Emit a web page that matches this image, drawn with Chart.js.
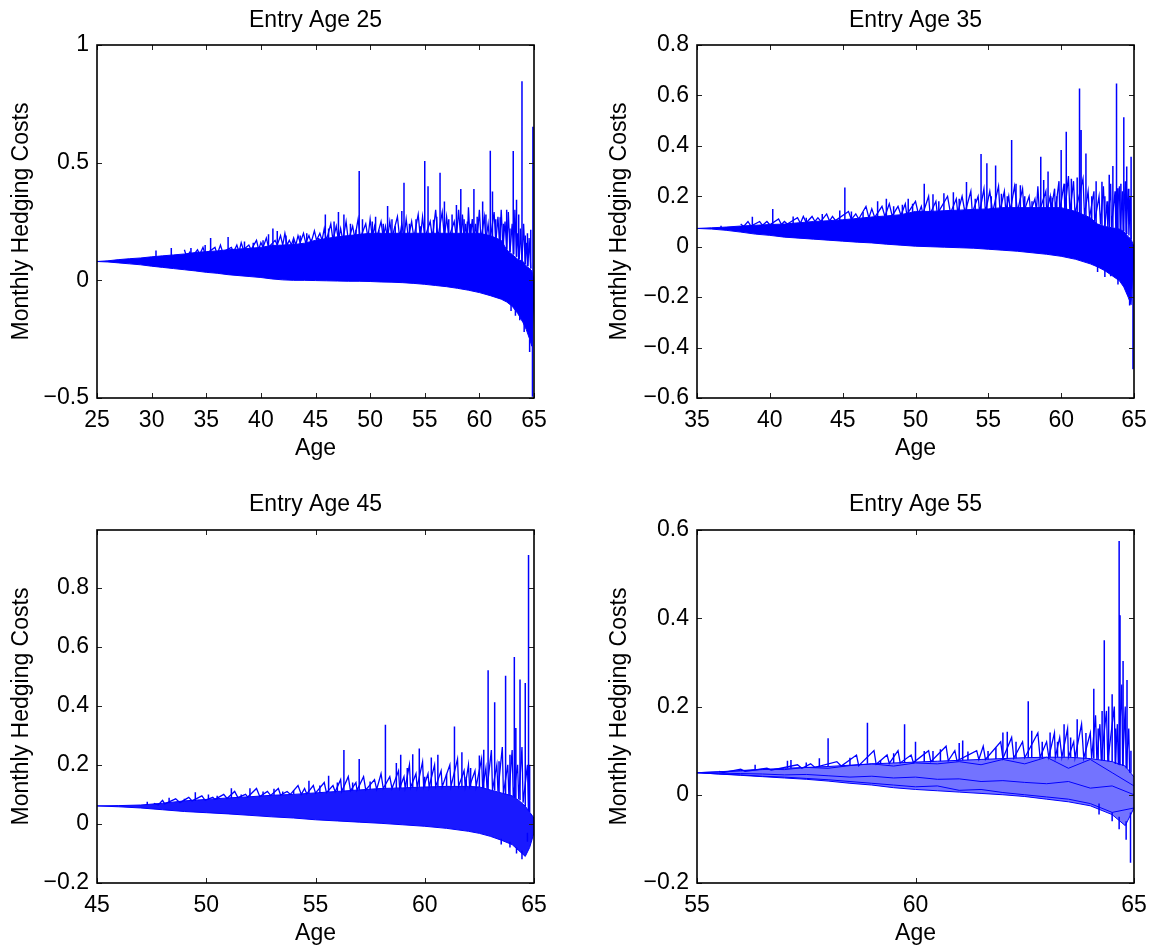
<!DOCTYPE html>
<html>
<head>
<meta charset="utf-8">
<script src="https://cdn.jsdelivr.net/npm/chart.js"></script>
<style>
  body { margin: 0; background: #fff; }
  #wrap { position: relative; width: 1162px; height: 950px; }
  #wrap canvas { position: absolute; }
</style>
</head>
<body>
<div id="wrap">
  <canvas id="c25" width="581" height="475" style="left:0;top:0"></canvas>
  <canvas id="c35" width="581" height="475" style="left:581px;top:0"></canvas>
  <canvas id="c45" width="581" height="475" style="left:0;top:475px"></canvas>
  <canvas id="c55" width="581" height="475" style="left:581px;top:475px"></canvas>
</div>
<script>
// ---- tick labels ----
const xTicks25 = [25, 30, 35, 40, 45, 50, 55, 60, 65];
const yTicks25 = [-0.5, 0, 0.5, 1];
const xTicks35 = [35, 40, 45, 50, 55, 60, 65];
const yTicks35 = [-0.6, -0.4, -0.2, 0, 0.2, 0.4, 0.6, 0.8];
const xTicks45 = [45, 50, 55, 60, 65];
const yTicks45 = [-0.2, 0, 0.2, 0.4, 0.6, 0.8];
const xTicks55 = [55, 60, 65];
const yTicks55 = [-0.2, 0, 0.2, 0.4, 0.6];

// ---- entry age 25 ----
// dense band of paths (top / bottom edge)
const age25Band = [25,26,27,28,29,30,31,32,33,34,35,36,37,38,39,40,41,42,43,44,45,46,47,48,49,50,51,52,53,54,55,56,57,58,59,60,61,62,62.5,63,63.5,64,64.3,64.6,64.8,65];
const hi25Band = [0.08,0.083,0.088,0.092,0.095,0.1,0.104,0.108,0.112,0.118,0.122,0.125,0.13,0.133,0.136,0.14,0.148,0.15,0.152,0.158,0.17,0.178,0.185,0.19,0.195,0.2,0.2,0.2,0.2,0.2,0.2,0.2,0.2,0.2,0.2,0.2,0.19,0.17,0.13,0.11,0.09,0.08,0.06,0.05,0.04,0.0];
const lo25Band = [0.08,0.078,0.074,0.07,0.066,0.06,0.055,0.05,0.045,0.04,0.034,0.03,0.024,0.02,0.016,0.012,0.006,0.002,0.0,0.0,-0.001,-0.002,-0.003,-0.004,-0.004,-0.005,-0.007,-0.008,-0.01,-0.013,-0.017,-0.022,-0.027,-0.034,-0.042,-0.052,-0.065,-0.08,-0.092,-0.11,-0.14,-0.18,-0.21,-0.25,-0.28,-0.05];
// jagged path along the top of the band
const age25Hair = [33.0,33.2,33.5,33.7,34.2,34.4,34.7,34.9,35.8,36.0,36.3,36.5,37.3,37.5,37.8,38.0,38.2,38.4,38.9,39.1,39.6,39.8,40.0,40.2,40.5,40.7,41.3,41.5,41.8,42.0,42.2,42.4,42.6,42.8,43.0,43.2,43.4,43.6,43.9,44.1,44.4,44.6,44.9,45.1,45.4,45.6,45.8,46.0,46.4,46.6,46.9,47.1,47.3,47.5,47.8,48.0,48.4,48.6,48.9,49.1,49.6,49.8,50.0,50.2,50.4,50.6,51.0,51.2,51.4,51.6,51.8,52.0,52.5,52.7,52.9,53.1,53.3,53.5,53.8,54.0,54.4,54.6,54.8,55.0,55.5,55.7,56.0,56.2,56.6,56.8,57.0,57.2,57.7,57.9,58.1,58.3,58.45,58.6,58.75,58.9,59.0,59.15,59.35,59.5,59.65,59.8,60.0,60.15,60.45,60.6,60.8,60.95,61.35,61.5,61.7,61.85,62.0,62.15,62.35,62.5,62.65,62.8,63.0,63.15,63.25,63.4,63.5,63.65,63.75,63.9,64.05,64.2,64.3,64.45,64.55,64.7];
const val25Hair = [0.13,0.1,0.12,0.1,0.13,0.11,0.14,0.11,0.14,0.11,0.15,0.12,0.14,0.12,0.15,0.12,0.16,0.13,0.15,0.13,0.17,0.13,0.16,0.14,0.18,0.14,0.17,0.15,0.19,0.15,0.2,0.15,0.17,0.15,0.18,0.15,0.19,0.16,0.2,0.16,0.19,0.16,0.21,0.17,0.2,0.17,0.22,0.17,0.24,0.17,0.23,0.17,0.22,0.17,0.25,0.17,0.23,0.18,0.26,0.18,0.24,0.18,0.26,0.18,0.23,0.18,0.25,0.18,0.23,0.18,0.25,0.18,0.27,0.18,0.24,0.18,0.26,0.18,0.25,0.18,0.28,0.18,0.27,0.18,0.25,0.18,0.3,0.18,0.29,0.18,0.27,0.18,0.25,0.18,0.3,0.17,0.28,0.17,0.24,0.17,0.31,0.17,0.26,0.17,0.24,0.17,0.3,0.17,0.27,0.17,0.24,0.16,0.29,0.16,0.27,0.15,0.3,0.14,0.25,0.13,0.29,0.12,0.24,0.11,0.3,0.1,0.2,0.09,0.22,0.08,0.24,0.07,0.16,0.06,0.18,0.05];
// tall upward spikes
const age25Spike = [30.4,31.8,33.6,34.9,35.4,37.0,38.5,39.3,40.2,40.7,41.1,41.5,42.3,43.0,43.6,44.2,44.6,45.3,45.9,46.2,46.7,47.1,47.6,48.2,48.7,49.0,49.3,50.2,50.5,50.8,51.2,51.6,52.0,52.3,52.9,53.1,53.6,54.2,54.6,55.0,55.3,55.8,56.1,56.4,56.8,57.2,57.5,57.9,58.3,58.6,58.9,59.2,59.5,59.8,60.3,60.6,61.0,61.2,61.5,61.9,62.2,62.5,62.8,63.1,63.4,63.6,63.9,64.2,64.4,64.7,64.9];
const hi25Spike = [0.127,0.137,0.137,0.15,0.18,0.184,0.165,0.16,0.17,0.196,0.22,0.21,0.19,0.17,0.19,0.2,0.175,0.18,0.28,0.22,0.25,0.29,0.28,0.24,0.215,0.465,0.26,0.25,0.27,0.215,0.24,0.316,0.26,0.23,0.295,0.415,0.24,0.26,0.23,0.507,0.4,0.257,0.27,0.457,0.335,0.26,0.28,0.32,0.388,0.26,0.25,0.24,0.388,0.27,0.335,0.28,0.551,0.377,0.26,0.268,0.24,0.3,0.22,0.55,0.342,0.28,0.846,0.19,0.2,0.215,0.653];
const lo25Spike = [0.1,0.1,0.11,0.12,0.12,0.13,0.13,0.13,0.14,0.14,0.14,0.15,0.15,0.15,0.15,0.16,0.16,0.16,0.16,0.17,0.17,0.17,0.17,0.17,0.17,0.17,0.17,0.18,0.18,0.18,0.18,0.18,0.18,0.18,0.18,0.18,0.18,0.18,0.18,0.18,0.18,0.17,0.17,0.17,0.17,0.17,0.17,0.17,0.17,0.17,0.17,0.17,0.17,0.17,0.16,0.16,0.16,0.16,0.15,0.15,0.14,0.13,0.12,0.11,0.1,0.09,0.08,0.07,0.06,0.05,0.0];
// downward dips near the end
const age25Dip = [62.9,63.3,63.7,64.1,64.6,64.86];
const lo25Dip = [-0.13,-0.15,-0.17,-0.22,-0.305,-0.495];
const hi25Dip = [-0.1,-0.12,-0.14,-0.18,-0.25,0.0];

// ---- entry age 35 ----
const age35Band = [35,36,37,38,39,40,41,42,43,44,45,46,47,48,49,50,51,52,53,54,55,56,57,58,59,60,61,62,62.5,63,63.5,64,64.3,64.6,64.8,65];
const hi35Band = [0.0725,0.075,0.078,0.082,0.085,0.088,0.09,0.095,0.1,0.103,0.107,0.112,0.118,0.122,0.127,0.14,0.14,0.143,0.145,0.148,0.15,0.155,0.155,0.155,0.155,0.155,0.14,0.115,0.09,0.08,0.075,0.07,0.06,0.04,0.03,0.0];
const lo35Band = [0.0725,0.07,0.065,0.058,0.05,0.045,0.038,0.034,0.03,0.026,0.022,0.018,0.015,0.01,0.006,0.002,0.0,-0.002,-0.004,-0.006,-0.01,-0.014,-0.018,-0.024,-0.03,-0.038,-0.05,-0.068,-0.08,-0.095,-0.115,-0.135,-0.16,-0.2,-0.23,-0.02];
const age35Hair = [38.0,38.2,38.5,38.7,39.3,39.5,39.8,40.0,40.6,40.8,41.0,41.2,41.9,42.1,42.3,42.5,42.9,43.1,43.3,43.5,43.9,44.1,44.3,44.5,45.4,45.6,45.9,46.1,46.6,46.8,47.0,47.2,47.7,47.9,48.2,48.4,48.8,49.0,49.3,49.4,50.0,50.2,50.4,50.5,50.9,51.0,51.4,51.5,52.2,52.4,52.8,52.9,53.2,53.4,53.8,53.9,54.3,54.4,54.7,54.8,55.1,55.3,55.7,55.8,56.1,56.2,56.4,56.5,56.8,57.0,57.35,57.45,57.8,57.9,58.2,58.3,58.4,58.5,58.95,59.0,59.25,59.3,59.55,59.6,59.85,59.9,60.2,60.25,60.5,60.6,60.85,60.95,61.5,61.6,61.85,61.95,62.25,62.3,62.6,62.7,62.9,63.0,63.15,63.2,63.4,63.45,63.7,63.75,64.0,64.05,64.2,64.25,64.4,64.45,64.6,64.65,64.75,64.8];
const val35Hair = [0.09,0.08,0.1,0.082,0.1,0.085,0.1,0.087,0.11,0.088,0.1,0.09,0.115,0.093,0.12,0.095,0.12,0.1,0.115,0.1,0.13,0.102,0.12,0.104,0.14,0.108,0.13,0.11,0.16,0.114,0.15,0.116,0.16,0.12,0.17,0.122,0.16,0.125,0.17,0.127,0.18,0.13,0.16,0.13,0.2,0.13,0.18,0.13,0.2,0.133,0.19,0.134,0.2,0.135,0.22,0.135,0.2,0.136,0.23,0.137,0.22,0.138,0.24,0.14,0.22,0.14,0.2,0.14,0.24,0.14,0.23,0.14,0.2,0.14,0.19,0.14,0.24,0.14,0.22,0.14,0.2,0.14,0.23,0.14,0.26,0.14,0.25,0.14,0.28,0.135,0.26,0.13,0.27,0.125,0.22,0.115,0.22,0.1,0.2,0.088,0.24,0.08,0.18,0.078,0.25,0.076,0.22,0.072,0.24,0.066,0.22,0.062,0.26,0.055,0.23,0.045,0.2,0.03];
const age35Spike = [36.65,38.8,40.2,41.6,42.5,43.6,44.8,45.15,45.6,46.4,47.4,48.0,48.5,49.1,49.5,49.8,50.6,51.2,51.6,51.95,52.6,53.0,53.5,54.1,54.5,54.9,55.2,55.5,55.9,56.3,56.6,56.9,57.2,57.5,58.0,58.6,58.8,59.1,59.4,59.7,60.0,60.35,60.7,61.1,61.26,61.37,61.7,62.1,62.4,62.8,63.0,63.3,63.55,63.8,63.9,64.1,64.3,64.5,64.8];
const hi35Spike = [0.083,0.119,0.15,0.12,0.115,0.13,0.144,0.235,0.14,0.138,0.18,0.19,0.16,0.166,0.19,0.17,0.25,0.208,0.18,0.212,0.216,0.19,0.257,0.19,0.368,0.331,0.2,0.322,0.21,0.2,0.423,0.25,0.244,0.2,0.18,0.357,0.265,0.298,0.194,0.2,0.384,0.456,0.27,0.275,0.627,0.463,0.37,0.2,0.26,0.258,0.2,0.285,0.32,0.647,0.232,0.25,0.513,0.318,0.357];
const lo35Spike = [0.075,0.084,0.088,0.09,0.095,0.1,0.105,0.107,0.11,0.112,0.118,0.122,0.124,0.127,0.127,0.13,0.13,0.13,0.13,0.133,0.133,0.135,0.135,0.135,0.137,0.138,0.138,0.138,0.14,0.14,0.14,0.14,0.14,0.14,0.14,0.14,0.14,0.14,0.14,0.14,0.14,0.14,0.135,0.13,0.13,0.128,0.12,0.11,0.09,0.085,0.08,0.078,0.075,0.072,0.07,0.065,0.06,0.05,0.03];
const age35Dip = [62.5,63.0,63.4,63.9,64.2,64.7,64.93];
const lo35Dip = [-0.1,-0.12,-0.117,-0.15,-0.14,-0.233,-0.486];
const hi35Dip = [-0.07,-0.09,-0.1,-0.12,-0.12,-0.2,0.0];

// ---- entry age 45 ----
const age45Band = [45,46,47,48,49,50,51,52,53,54,55,56,57,58,59,60,61,62,62.5,63,63.5,64,64.3,64.6,64.8,65];
const hi45Band = [0.061,0.062,0.064,0.07,0.078,0.083,0.088,0.092,0.097,0.1,0.105,0.11,0.115,0.12,0.122,0.125,0.127,0.127,0.125,0.115,0.105,0.095,0.08,0.06,0.04,0.02];
const lo45Band = [0.061,0.058,0.054,0.048,0.042,0.038,0.034,0.029,0.024,0.02,0.014,0.01,0.006,0.002,-0.003,-0.008,-0.015,-0.025,-0.032,-0.042,-0.055,-0.07,-0.09,-0.11,-0.08,-0.03];
const age45Hair = [47.6,47.8,48.0,48.1,48.6,48.8,49.2,49.35,49.8,49.95,50.3,50.4,50.8,50.95,51.3,51.45,51.8,51.9,52.3,52.45,52.8,52.95,53.3,53.4,53.7,53.85,54.2,54.35,54.5,54.6,54.9,55.0,55.4,55.5,55.8,55.9,56.15,56.2,56.5,56.6,56.85,56.9,57.2,57.3,57.7,57.8,58.0,58.1,58.4,58.5,58.8,58.85,59.05,59.1,59.3,59.35,59.6,59.65,59.9,59.95,60.15,60.2,60.45,60.5,60.75,60.8,61.15,61.2,61.5,61.55,61.8,61.85,62.0,62.05,62.3,62.35,62.6,62.65,62.8,62.85,63.05,63.1,63.3,63.35,63.55,63.6,63.8,63.85,64.0,64.05,64.25,64.3,64.45,64.5,64.7,64.75];
const val45Hair = [0.07,0.064,0.08,0.068,0.085,0.072,0.09,0.078,0.095,0.08,0.09,0.083,0.1,0.086,0.11,0.089,0.1,0.091,0.12,0.093,0.11,0.096,0.12,0.098,0.11,0.1,0.13,0.1,0.12,0.102,0.13,0.104,0.14,0.106,0.13,0.109,0.15,0.11,0.16,0.112,0.14,0.114,0.16,0.115,0.15,0.117,0.17,0.12,0.16,0.12,0.18,0.121,0.16,0.122,0.2,0.123,0.17,0.124,0.21,0.125,0.17,0.125,0.2,0.126,0.18,0.126,0.2,0.127,0.22,0.127,0.18,0.127,0.2,0.127,0.18,0.126,0.22,0.122,0.19,0.118,0.25,0.115,0.2,0.11,0.26,0.103,0.2,0.098,0.25,0.093,0.2,0.084,0.26,0.072,0.2,0.05];
const age45Spike = [47.3,48.3,49.0,49.5,50.1,50.5,51.15,51.6,52.0,52.6,53.1,53.5,54.0,54.7,55.2,55.6,56.0,56.3,56.7,57.0,57.5,58.2,58.7,58.9,59.2,59.45,59.75,60.0,60.3,60.6,61.0,61.36,61.7,61.9,62.1,62.5,62.7,62.9,63.2,63.4,63.7,63.9,64.1,64.17,64.36,64.6,64.75,64.8];
const hi45Spike = [0.075,0.089,0.085,0.107,0.1,0.095,0.121,0.1,0.121,0.11,0.119,0.11,0.114,0.146,0.13,0.163,0.14,0.25,0.14,0.22,0.144,0.336,0.206,0.234,0.189,0.236,0.255,0.16,0.225,0.234,0.17,0.33,0.243,0.16,0.189,0.232,0.251,0.52,0.412,0.212,0.502,0.234,0.565,0.325,0.489,0.477,0.91,0.2];
const lo45Spike = [0.064,0.07,0.078,0.078,0.083,0.083,0.088,0.09,0.092,0.095,0.097,0.1,0.1,0.103,0.105,0.108,0.11,0.11,0.113,0.115,0.115,0.12,0.12,0.122,0.122,0.123,0.124,0.125,0.125,0.126,0.127,0.127,0.127,0.127,0.127,0.125,0.12,0.117,0.113,0.108,0.1,0.097,0.09,0.088,0.08,0.06,0.045,0.04];
const age45Dip = [63.5,63.9,64.2,64.45,64.7];
const lo45Dip = [-0.07,-0.08,-0.1,-0.12,-0.06];
const hi45Dip = [-0.05,-0.06,-0.08,-0.09,-0.03];

// ---- entry age 55 ----
const age55Band = [55,55.5,56,56.5,57,57.5,58,58.5,59,59.5,60,60.5,61,61.5,62,62.5,63,63.5,64,64.5,64.8,65];
const hi55Band = [0.05,0.052,0.055,0.057,0.06,0.062,0.064,0.067,0.07,0.072,0.074,0.076,0.078,0.08,0.082,0.084,0.085,0.085,0.082,0.075,0.065,0.04];
const lo55Band = [0.05,0.047,0.044,0.041,0.038,0.035,0.031,0.026,0.022,0.016,0.012,0.009,0.006,0.003,0.0,-0.004,-0.01,-0.016,-0.025,-0.045,-0.07,-0.03];
// a few single paths visible inside the band
const age55Path = [55,55.5,56,56.5,57,57.5,58,58.5,59,59.5,60,60.5,61,61.5,62,62.5,63,63.5,64,64.5,65];
const valA55Path = [0.05,0.052,0.054,0.058,0.057,0.062,0.06,0.066,0.07,0.065,0.072,0.07,0.075,0.068,0.08,0.07,0.085,0.06,0.08,0.05,0.02];
const valB55Path = [0.05,0.049,0.048,0.047,0.045,0.046,0.043,0.04,0.042,0.038,0.04,0.035,0.036,0.03,0.032,0.028,0.025,0.03,0.015,0.02,0.0];
const valC55Path = [0.05,0.047,0.045,0.042,0.04,0.037,0.034,0.03,0.026,0.022,0.018,0.02,0.01,0.012,0.005,0.0,-0.005,-0.01,-0.02,-0.04,-0.03];
const age55Hair = [55.5,55.6,56.0,56.1,56.6,56.7,57.3,57.4,57.6,57.7,58.2,58.3,58.65,58.7,59.05,59.1,59.35,59.4,59.6,59.65,59.9,59.95,60.3,60.35,60.7,60.75,60.9,60.95,61.4,61.45,61.55,61.6,61.95,62.0,62.2,62.25,62.45,62.5,62.8,62.85,63.0,63.05,63.18,63.2,63.3,63.35,63.48,63.5,63.62,63.65,63.8,63.85,64.0,64.03,64.12,64.15,64.22,64.25,64.37,64.4,64.55,64.57,64.62,64.64,64.72,64.74,64.8,64.82,64.88,64.9];
const val55Hair = [0.053,0.05,0.058,0.053,0.06,0.056,0.068,0.06,0.07,0.062,0.075,0.065,0.09,0.066,0.1,0.069,0.09,0.071,0.1,0.072,0.09,0.073,0.1,0.075,0.11,0.077,0.1,0.077,0.1,0.08,0.11,0.08,0.12,0.082,0.13,0.083,0.12,0.084,0.14,0.085,0.12,0.085,0.14,0.085,0.13,0.085,0.15,0.085,0.12,0.084,0.16,0.083,0.14,0.082,0.18,0.08,0.16,0.078,0.19,0.076,0.2,0.07,0.16,0.068,0.25,0.066,0.2,0.06,0.15,0.05];
const age55Spike = [56.33,57.07,57.15,57.5,57.8,58.0,58.5,58.9,59.2,59.5,59.75,60.0,60.2,60.4,60.57,61.0,61.08,61.2,61.66,61.84,62.0,62.1,62.3,62.58,62.66,62.9,63.08,63.25,63.4,63.55,63.7,63.9,64.08,64.18,64.27,64.32,64.42,64.5,64.58,64.66,64.68,64.75,64.84,64.93];
const hi55Spike = [0.068,0.077,0.079,0.073,0.083,0.128,0.084,0.163,0.079,0.094,0.16,0.12,0.099,0.099,0.103,0.117,0.123,0.098,0.099,0.107,0.141,0.143,0.12,0.212,0.145,0.12,0.141,0.12,0.16,0.13,0.171,0.14,0.24,0.15,0.19,0.35,0.2,0.228,0.15,0.575,0.407,0.303,0.26,0.1];
const lo55Spike = [0.056,0.06,0.06,0.062,0.063,0.064,0.067,0.07,0.07,0.072,0.073,0.074,0.075,0.075,0.076,0.078,0.078,0.079,0.08,0.081,0.082,0.082,0.083,0.084,0.084,0.085,0.085,0.085,0.085,0.085,0.084,0.083,0.082,0.08,0.078,0.077,0.076,0.075,0.07,0.068,0.067,0.065,0.06,0.05];
const age55Dip = [64.2,64.5,64.66,64.82,64.92];
const lo55Dip = [-0.045,-0.06,-0.078,-0.102,-0.154];
const hi55Dip = [-0.02,-0.04,-0.05,-0.06,-0.04];

const BLUE = '#0000ff';

Chart.defaults.font.family = "'Liberation Sans', Arial, Helvetica, sans-serif";
Chart.defaults.font.size = 23;
Chart.defaults.color = '#000';

const toPts = (xs, ys) => xs.map((x, i) => ({x: x, y: ys[i]}));
// vertical strokes from low to high, broken by gaps
const toSegs = (xs, lo, hi) => {
  const out = [];
  xs.forEach((x, i) => { out.push({x: x, y: lo[i]}, {x: x, y: hi[i]}, {x: x, y: null}); });
  return out;
};
const fmt = v => (v < 0 ? '\u2212' + Math.abs(v) : String(v));

// matlab style box, inward ticks and panel title
const boxPlugin = {
  id: 'box',
  afterDatasetsDraw(chart, args, opts) {
    const ctx = chart.ctx;
    const a = chart.chartArea;
    const sx = chart.scales.x, sy = chart.scales.y;
    ctx.save();
    ctx.strokeStyle = '#222';
    ctx.lineWidth = 1;
    ctx.beginPath();
    sx.ticks.forEach(t => {
      const p = Math.round(sx.getPixelForValue(t.value)) + 0.5;
      ctx.moveTo(p, a.bottom); ctx.lineTo(p, a.bottom - 5);
      ctx.moveTo(p, a.top); ctx.lineTo(p, a.top + 5);
    });
    sy.ticks.forEach(t => {
      const p = Math.round(sy.getPixelForValue(t.value)) + 0.5;
      ctx.moveTo(a.left, p); ctx.lineTo(a.left + 5, p);
      ctx.moveTo(a.right, p); ctx.lineTo(a.right - 5, p);
    });
    ctx.stroke();
    ctx.strokeStyle = '#000';
    ctx.lineWidth = 1.6;
    ctx.strokeRect(a.left, a.top, a.right - a.left, a.bottom - a.top);
    ctx.fillStyle = '#000';
    ctx.font = "23px 'Liberation Sans', Arial, sans-serif";
    ctx.textAlign = 'center';
    ctx.textBaseline = 'alphabetic';
    ctx.fillText(opts.title, (a.left + a.right) / 2, opts.titleY);
    ctx.restore();
  }
};

const lineDs = (data, width, extra) => Object.assign(
  { data: data, borderColor: BLUE, borderWidth: width, pointRadius: 0, fill: false, spanGaps: false }, extra || {});

function makePanel(id, p) {
  const sets = [
    lineDs(toPts(p.bandAge, p.bandLo), 1),
    lineDs(toPts(p.bandAge, p.bandHi), 1, { fill: '-1', backgroundColor: p.fillColor }),
    lineDs(toPts(p.hairAge, p.hairVal), 1.3),
    lineDs(toSegs(p.spikeAge, p.spikeLo, p.spikeHi), 1.5),
    lineDs(toSegs(p.dipAge, p.dipLo, p.dipHi), 1.5)
  ];
  (p.paths || []).forEach(vals => sets.push(lineDs(toPts(p.pathAge, vals), 1)));
  new Chart(document.getElementById(id), {
    type: 'line',
    data: { datasets: sets },
    options: {
      responsive: false,
      animation: false,
      events: [],
      elements: { line: { tension: 0 } },
      layout: { padding: { top: p.padTop, right: p.padRight, left: 0, bottom: 0 } },
      plugins: {
        legend: { display: false },
        tooltip: { enabled: false },
        box: { title: p.title, titleY: p.titleY }
      },
      scales: {
        x: {
          type: 'linear',
          min: p.xTicks[0],
          max: p.xTicks[p.xTicks.length - 1],
          afterBuildTicks: s => { s.ticks = p.xTicks.map(v => ({value: v})); },
          afterFit: s => { s.height = p.xHeight; },
          grid: { display: false, drawTicks: false },
          border: { display: false },
          ticks: { padding: 9, autoSkip: false, maxRotation: 0, color: '#000', callback: v => fmt(v) },
          title: { display: true, text: 'Age', color: '#000', padding: { top: 0, bottom: p.xTitlePad } }
        },
        y: {
          type: 'linear',
          min: p.yMin,
          max: p.yMax,
          afterBuildTicks: s => { s.ticks = p.yTicks.map(v => ({value: v})); },
          afterFit: s => { s.width = p.yWidth; },
          grid: { display: false, drawTicks: false },
          border: { display: false },
          ticks: { padding: 8, autoSkip: false, color: '#000', callback: v => fmt(v) },
          title: { display: true, text: 'Monthly Hedging Costs', color: '#000', padding: { top: p.yTitlePad, bottom: 0 } }
        }
      }
    },
    plugins: [boxPlugin]
  });
}

makePanel('c25', {
  title: 'Entry Age 25', titleY: 27,
  xTicks: xTicks25, yTicks: yTicks25, yMin: -0.5, yMax: 1,
  bandAge: age25Band, bandHi: hi25Band, bandLo: lo25Band,
  hairAge: age25Hair, hairVal: val25Hair,
  spikeAge: age25Spike, spikeHi: hi25Spike, spikeLo: lo25Spike,
  dipAge: age25Dip, dipLo: lo25Dip, dipHi: hi25Dip,
  fillColor: 'rgba(0,0,255,1)',
  padTop: 45, padRight: 47, yWidth: 97, xHeight: 77, yTitlePad: 8, xTitlePad: 13
});
makePanel('c35', {
  title: 'Entry Age 35', titleY: 27,
  xTicks: xTicks35, yTicks: yTicks35, yMin: -0.6, yMax: 0.8,
  bandAge: age35Band, bandHi: hi35Band, bandLo: lo35Band,
  hairAge: age35Hair, hairVal: val35Hair,
  spikeAge: age35Spike, spikeHi: hi35Spike, spikeLo: lo35Spike,
  dipAge: age35Dip, dipLo: lo35Dip, dipHi: hi35Dip,
  fillColor: 'rgba(0,0,255,1)',
  padTop: 45, padRight: 28, yWidth: 116, xHeight: 77, yTitlePad: 25, xTitlePad: 13
});
makePanel('c45', {
  title: 'Entry Age 45', titleY: 36,
  xTicks: xTicks45, yTicks: yTicks45, yMin: -0.2, yMax: 0.995,
  bandAge: age45Band, bandHi: hi45Band, bandLo: lo45Band,
  hairAge: age45Hair, hairVal: val45Hair,
  spikeAge: age45Spike, spikeHi: hi45Spike, spikeLo: lo45Spike,
  dipAge: age45Dip, dipLo: lo45Dip, dipHi: hi45Dip,
  fillColor: 'rgba(0,0,255,0.9)',
  padTop: 55, padRight: 47, yWidth: 97, xHeight: 67, yTitlePad: 8, xTitlePad: 3
});
makePanel('c55', {
  title: 'Entry Age 55', titleY: 36,
  xTicks: xTicks55, yTicks: yTicks55, yMin: -0.2, yMax: 0.6,
  bandAge: age55Band, bandHi: hi55Band, bandLo: lo55Band,
  hairAge: age55Hair, hairVal: val55Hair,
  spikeAge: age55Spike, spikeHi: hi55Spike, spikeLo: lo55Spike,
  dipAge: age55Dip, dipLo: lo55Dip, dipHi: hi55Dip,
  pathAge: age55Path, paths: [valA55Path, valB55Path, valC55Path],
  fillColor: 'rgba(0,0,255,0.55)',
  padTop: 55, padRight: 28, yWidth: 116, xHeight: 67, yTitlePad: 25, xTitlePad: 3
});
</script>
</body>
</html>
